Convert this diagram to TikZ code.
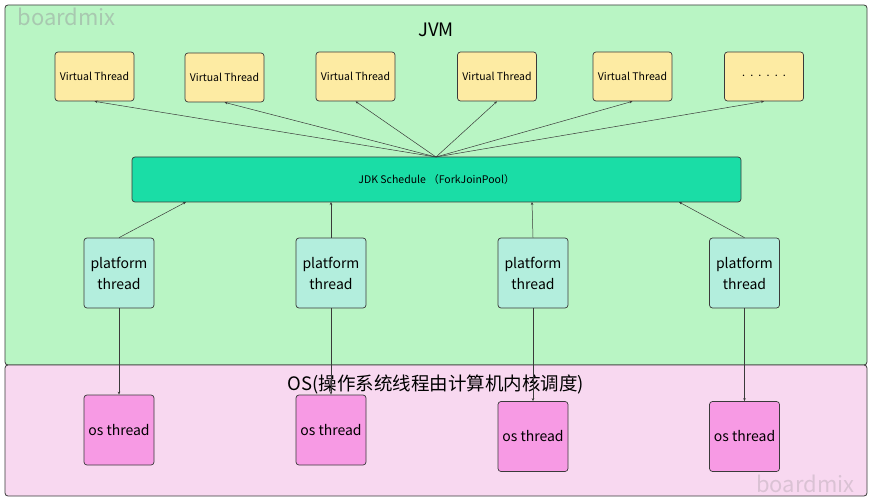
\documentclass[tikz,border=0pt]{standalone}
\usepackage{fontspec}
\setmainfont{Noto Sans CJK SC}
\usetikzlibrary{arrows.meta}
\definecolor{jvmbg}{HTML}{B9F5C4}
\definecolor{osbg}{HTML}{F8D8F0}
\definecolor{vtc}{HTML}{FDEBA3}
\definecolor{jdkc}{HTML}{1ADDA6}
\definecolor{ptc}{HTML}{B3EEDD}
\definecolor{otc}{HTML}{F79AE4}
\definecolor{linec}{HTML}{3A3A3A}
\definecolor{wm}{HTML}{A8C8B0}
\tikzset{
  panel/.style={draw=linec, line width=0.8pt, rounded corners=3pt},
  vtbox/.style={draw=linec, line width=0.7pt, fill=vtc, rounded corners=3pt, minimum width=79pt, minimum height=49pt, inner sep=0pt, font=\fontsize{10.5}{12}\selectfont},
  ptbox/.style={draw=linec, line width=0.7pt, fill=ptc, rounded corners=3pt, minimum width=70pt, minimum height=70pt, inner sep=0pt, align=center, font=\fontsize{14}{21}\selectfont},
  otbox/.style={draw=linec, line width=0.7pt, fill=otc, rounded corners=3pt, minimum width=70pt, minimum height=70pt, inner sep=0pt, font=\fontsize{14}{17}\selectfont},
  conn/.style={draw=linec, line width=0.5pt, -{Stealth[length=3pt,width=2.5pt]}},
  ttl/.style={font=\fontsize{18.5}{22}\selectfont, text=black}
}
\begin{document}
\begin{tikzpicture}[x=1pt,y=-1pt]
\useasboundingbox (0,0) rectangle (876,500);
% panels
\draw[panel, fill=jvmbg] (5,5) rectangle (867,365);
\draw[panel, fill=osbg] (5,365) rectangle (867,496);
\node[text=wm, font=\fontsize{22}{26}\selectfont, anchor=west] (wm1) at (14,17) {boardmix};
\node[text=osbg!75!gray, font=\fontsize{22}{26}\selectfont, anchor=east] (wm2) at (858,484) {boardmix};
\node[ttl] (jvm) at (436,30) {JVM};
\node[ttl] (os) at (436,384) {OS(操作系统线程由计算机内核调度)};
% virtual threads
\node[vtbox] (v1) at (94.5,76.5) {Virtual Thread};
\node[vtbox] (v2) at (224.5,77.5) {Virtual Thread};
\node[vtbox] (v3) at (355.5,76.5) {Virtual Thread};
\node[vtbox] (v4) at (497,76.5) {Virtual Thread};
\node[vtbox] (v5) at (632.5,76.5) {Virtual Thread};
\node[vtbox, font=\fontsize{7}{8}\selectfont] (v6) at (764,76.5) {·\,·\,·\,·\,·\,·};
% scheduler
\node[draw=linec, line width=0.7pt, fill=jdkc, rounded corners=3pt, minimum width=609pt, minimum height=45pt, inner sep=0pt, font=\fontsize{10.5}{12}\selectfont] (jdk) at (436.5,179.5) {JDK Schedule （ForkJoinPool）};
\coordinate (jt) at (436,157);
% platform threads
\node[ptbox] (p1) at (119,273) {platform\\thread};
\node[ptbox] (p2) at (331,273) {platform\\thread};
\node[ptbox] (p3) at (533,273) {platform\\thread};
\node[ptbox] (p4) at (744.5,273) {platform\\thread};
% os threads
\node[otbox] (o1) at (119,430) {os thread};
\node[otbox] (o2) at (331,430) {os thread};
\node[otbox] (o3) at (533,436.5) {os thread};
\node[otbox] (o4) at (744.5,436.5) {os thread};
% connectors
\foreach \v in {v1,v2,v3,v4,v5,v6} \draw[conn] (jt) -- (\v.south);
\coordinate (j1) at (186,202);
\coordinate (j2) at (331,202);
\coordinate (j3) at (532,202);
\coordinate (j4) at (679,202);
\draw[conn] (p1.north) -- (j1);
\draw[conn] (p2.north) -- (j2);
\draw[conn] (p3.north) -- (j3);
\draw[conn] (p4.north) -- (j4);
\draw[conn] (p1.south) -- (o1.north);
\draw[conn] (p2.south) -- (o2.north);
\draw[conn] (p3.south) -- (o3.north);
\draw[conn] (p4.south) -- (o4.north);
\end{tikzpicture}
\end{document}
